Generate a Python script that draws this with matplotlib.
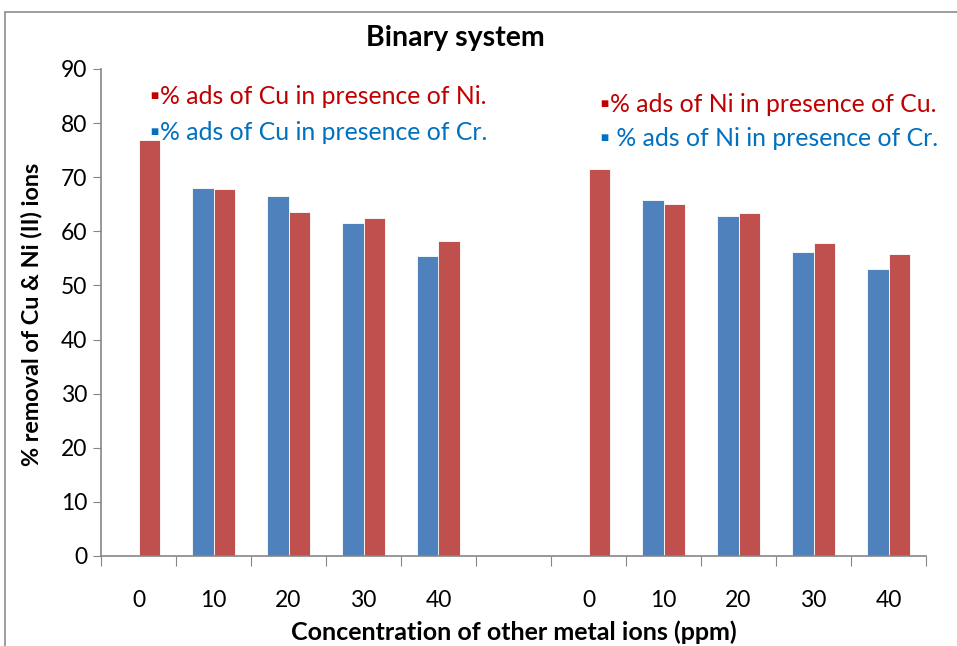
import matplotlib
matplotlib.use("Agg")
import matplotlib.pyplot as plt
from matplotlib.patches import Rectangle
import numpy as np

categories = ["0", "10", "20", "30", "40", "", "0", "10", "20", "30", "40"]
blue_vals = [np.nan, 68.0, 66.6, 61.5, 55.5, np.nan, np.nan, 65.7, 62.8, 56.1, 53.0]
red_vals = [76.8, 67.8, 63.6, 62.4, 58.2, np.nan, 71.6, 65.0, 63.3, 57.8, 55.8]
yticks = [0, 10, 20, 30, 40, 50, 60, 70, 80, 90]

title = "Binary system"
xlabel = "Concentration of other metal ions (ppm)"
ylabel = "% removal of Cu & Ni (II) ions"
leg_left = ["% ads of Cu in presence of Ni.", "% ads of Cu in presence of Cr."]
leg_right = ["% ads of Ni in presence of Cu.", " % ads of Ni in presence of Cr."]

BLUE = "#4F81BD"
RED = "#C0504D"
TXT_RED = "#C00000"
TXT_BLUE = "#0070C0"

plt.rcParams['font.family'] = ['Lato', 'DejaVu Sans']

W, H = 957, 646
fig = plt.figure(figsize=(W/100, H/100), dpi=100)
# outer frame
fig.patches.append(Rectangle((5/W, -0.1), 1.2, (H-12)/H + 0.1, transform=fig.transFigure,
                             fill=False, edgecolor="#8c8c8c", linewidth=1.2))

ax = fig.add_axes([101/W, 1-556/H, (926-101)/W, (556-69)/H])
x = np.arange(len(categories))
bw = 0.29
ax.bar(x - bw/2, blue_vals, bw, color=BLUE, edgecolor="white", linewidth=0.6)
ax.bar(x + bw/2, red_vals, bw, color=RED, edgecolor="white", linewidth=0.6)

ax.set_xlim(-0.5, len(categories) - 0.5)
ax.set_ylim(0, 90)
ax.set_yticks(yticks)
ax.tick_params(axis='y', labelsize=16.5, length=6, color="#868686", pad=4, direction='out')
ax.set_xticks(np.arange(-0.5, len(categories)), minor=False)
ax.set_xticklabels([])
ax.tick_params(axis='x', length=7, color="#868686", direction='out')
for xi, lab in zip(x, categories):
    ax.text(xi, -0.092, lab, transform=ax.get_xaxis_transform(), ha='center', va='center', fontsize=16.5)

for s in ["top", "right"]:
    ax.spines[s].set_visible(False)
for s in ["left", "bottom"]:
    ax.spines[s].set_color("#868686")
    ax.spines[s].set_linewidth(1.2)

fig.text(455/W, 1-38/H, title, ha='center', va='center', fontsize=20.5, fontweight='bold')
fig.text(514/W, 1-632/H, xlabel, ha='center', va='center', fontsize=18, fontweight='bold')
fig.text(32/W, 1-314/H, ylabel, ha='center', va='center', fontsize=16.8, fontweight='bold', rotation=90)

def legend_item(px, py, text, color):
    fig.text(px/W, 1-py/H, "\u25aa" + text, ha='left', va='center', fontsize=17.8, color=color)

legend_item(150, 97, leg_left[0], TXT_RED)
legend_item(150, 132, leg_left[1], TXT_BLUE)
legend_item(600, 104, leg_right[0], TXT_RED)
legend_item(600, 139, leg_right[1], TXT_BLUE)

fig.savefig("out.png", dpi=100)
